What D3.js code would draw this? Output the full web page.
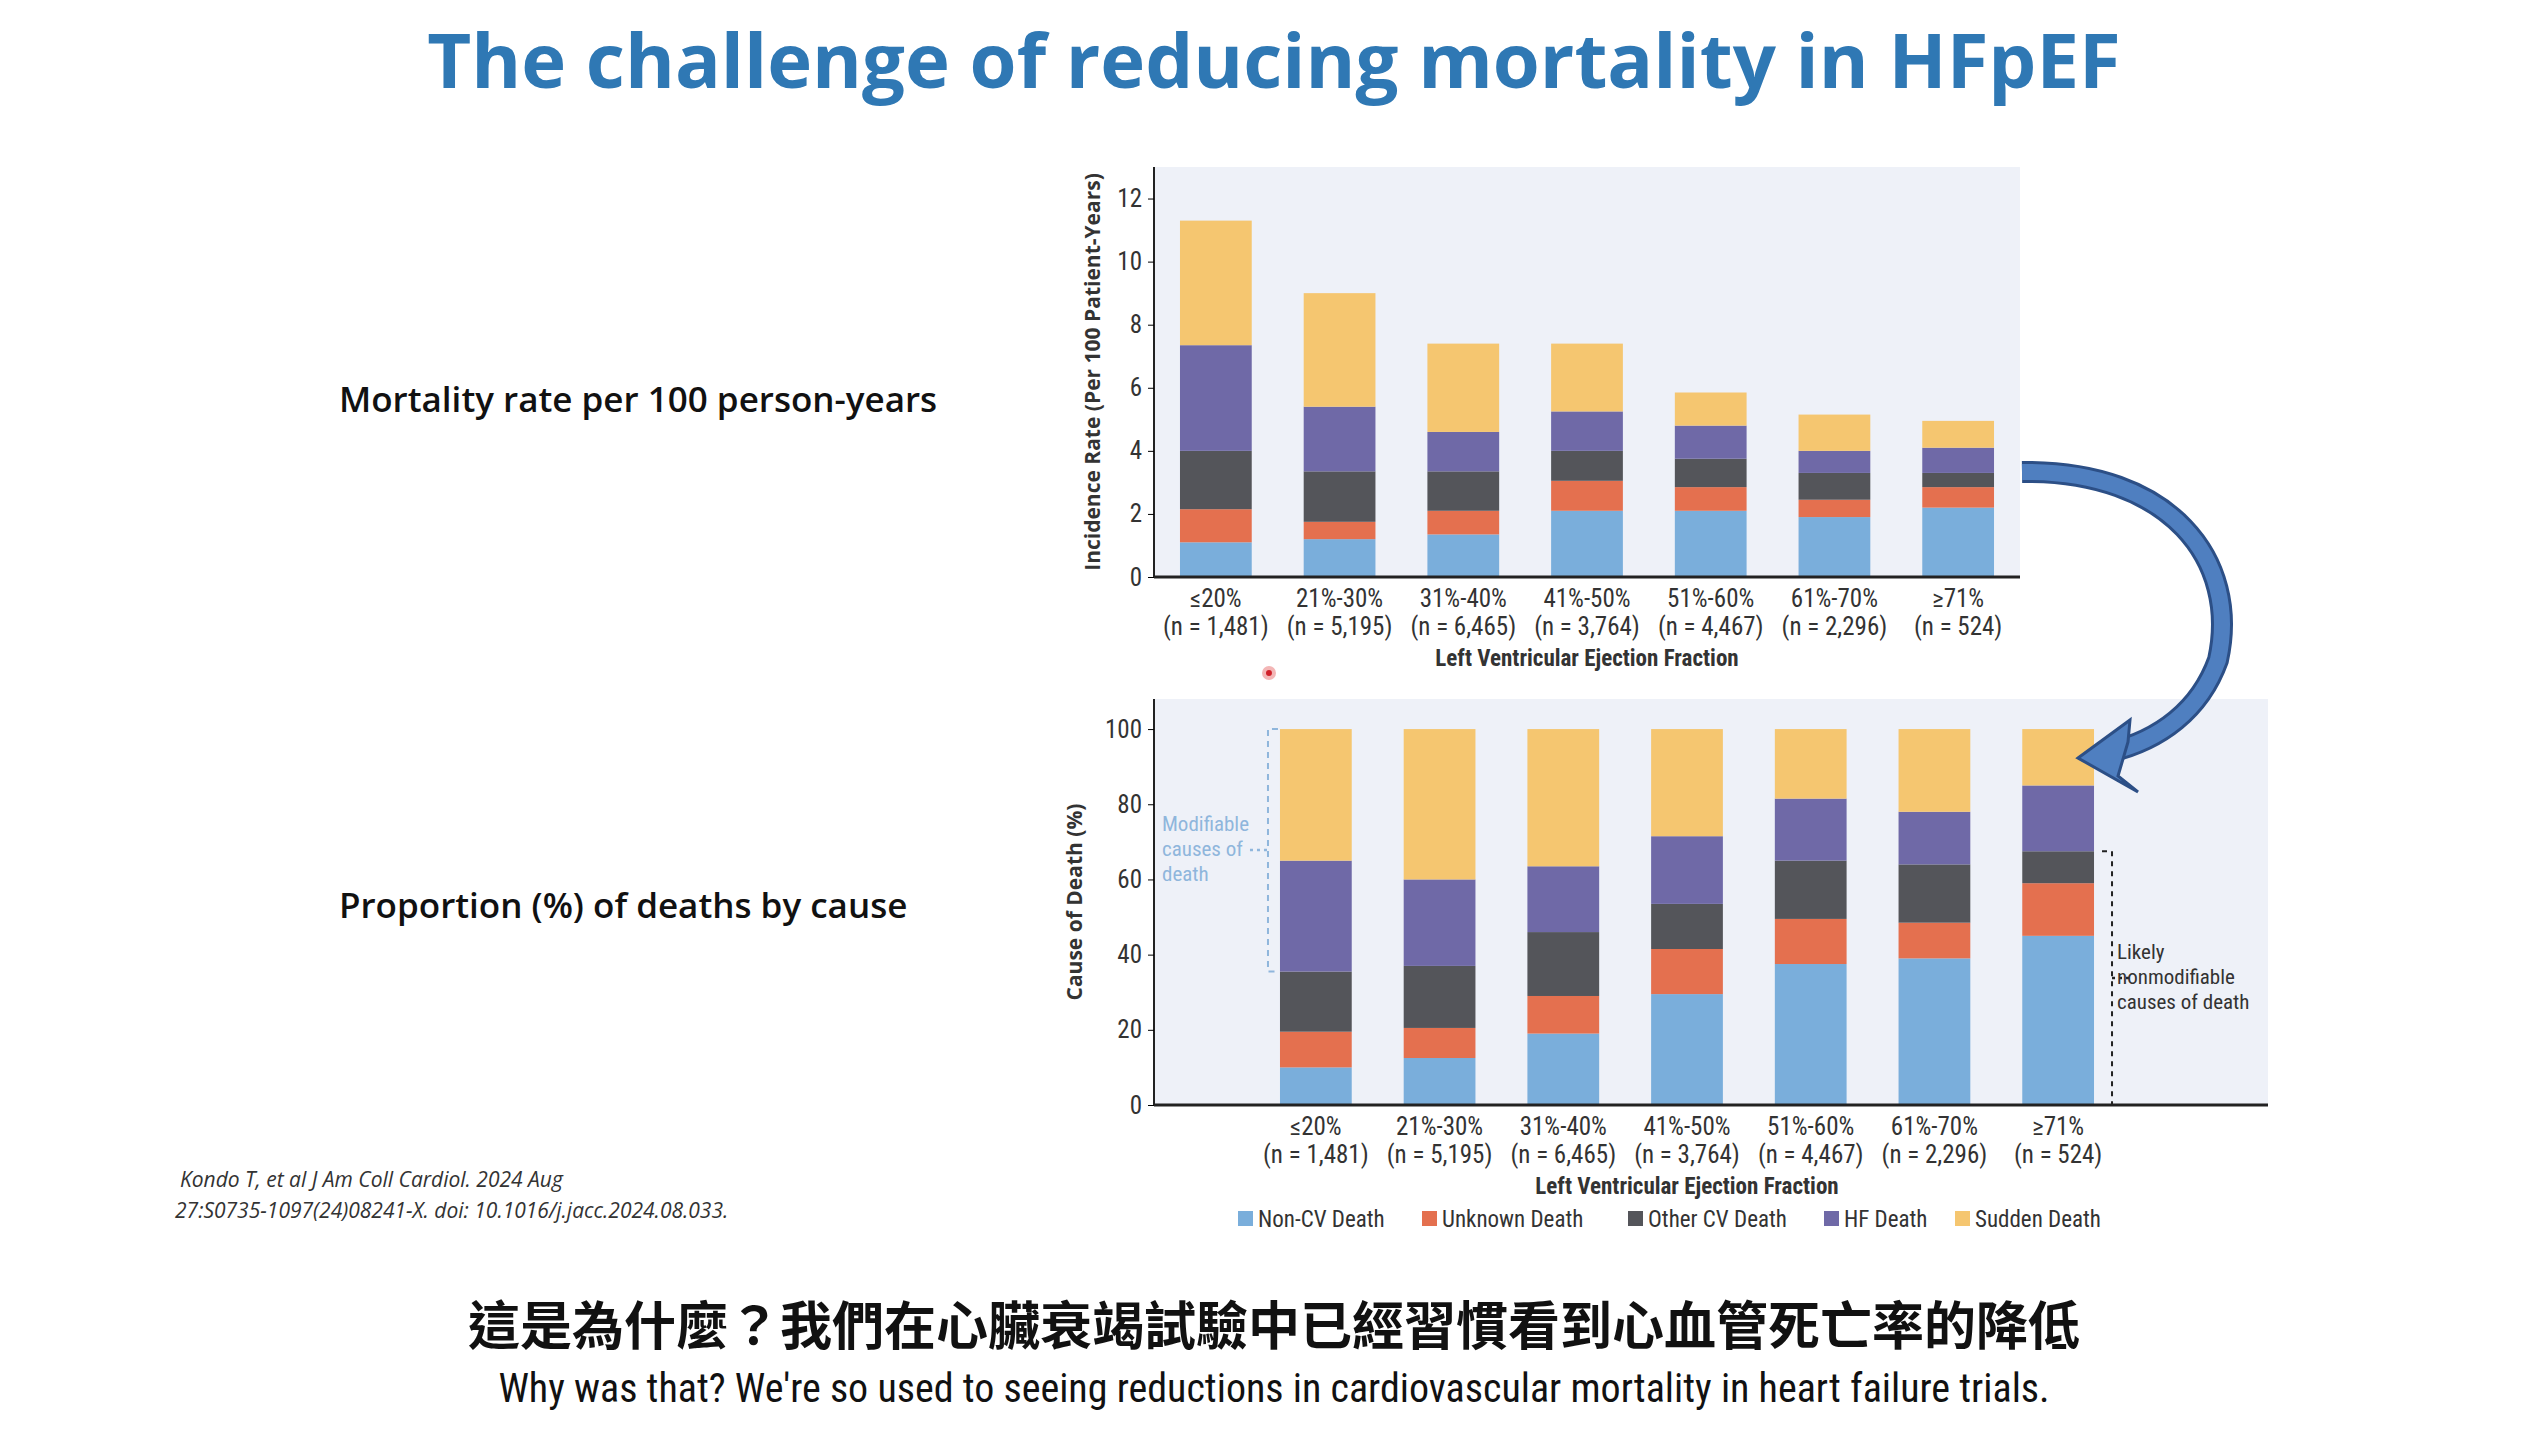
<!DOCTYPE html>
<html>
<head>
<meta charset="utf-8">
<script src="https://cdn.jsdelivr.net/npm/d3@7"></script>
<style>
  body { margin: 0; background: #fff; }
  svg { display: block; }
</style>
</head>
<body>
<svg id="chart" width="2548" height="1432"></svg>
<script>
// LVEF groups
const groups = ["≤20%", "21%-30%", "31%-40%", "41%-50%", "51%-60%", "61%-70%", "≥71%"];
const groupN = ["(n = 1,481)", "(n = 5,195)", "(n = 6,465)", "(n = 3,764)", "(n = 4,467)", "(n = 2,296)", "(n = 524)"];
const causes = ["Non-CV Death", "Unknown Death", "Other CV Death", "HF Death", "Sudden Death"];
const causeColors = ["#7aaedb", "#e4704f", "#54555a", "#6f69a7", "#f5c670"];

// incidence per 100 patient-years, one array per cause
const rateNonCV   = [1.10, 1.20, 1.35, 2.10, 2.10, 1.90, 2.20];
const rateUnknown = [1.05, 0.55, 0.75, 0.95, 0.75, 0.55, 0.65];
const rateOtherCV = [1.85, 1.60, 1.25, 0.95, 0.90, 0.85, 0.45];
const rateHF      = [3.35, 2.05, 1.25, 1.25, 1.05, 0.70, 0.80];
const rateSudden  = [3.95, 3.60, 2.80, 2.15, 1.05, 1.15, 0.85];
const rateTicks = [0, 2, 4, 6, 8, 10, 12];

// proportion of deaths (%)
const pctNonCV   = [10.0, 12.5, 19.0, 29.5, 37.5, 39.0, 45.0];
const pctUnknown = [9.5, 8.0, 10.0, 12.0, 12.0, 9.5, 14.0];
const pctOtherCV = [16.0, 16.5, 17.0, 12.0, 15.5, 15.5, 8.5];
const pctHF      = [29.5, 23.0, 17.5, 18.0, 16.5, 14.0, 17.5];
const pctSudden  = [35.0, 40.0, 36.5, 28.5, 18.5, 22.0, 15.0];
const pctTicks = [0, 20, 40, 60, 80, 100];

const svg = d3.select("#chart");
const narrow = "'Liberation Sans Narrow', 'Roboto Condensed', Arial, sans-serif";
const sans = "'Open Sans', 'Noto Sans', sans-serif";

svg.append("text").attr("x", 1274).attr("y", 88).attr("text-anchor", "middle")
  .attr("font-family", sans).attr("font-weight", 700).attr("font-size", 76)
  .attr("fill", "#2f78b4").text("The challenge of reducing mortality in HFpEF");

svg.append("text").attr("x", 339).attr("y", 412).attr("font-family", sans)
  .attr("font-weight", 600).attr("font-size", 35).attr("fill", "#111")
  .text("Mortality rate per 100 person-years");
svg.append("text").attr("x", 339).attr("y", 918).attr("font-family", sans)
  .attr("font-weight", 600).attr("font-size", 35).attr("fill", "#111")
  .text("Proportion (%) of deaths by cause");

function rows(arrs) {
  return groups.map((g, i) => {
    const r = { group: g };
    causes.forEach((c, k) => r[c] = arrs[k][i]);
    return r;
  });
}

function drawPanel(opt) {
  const g = svg.append("g");
  g.append("rect").attr("x", opt.x0).attr("y", opt.top)
    .attr("width", opt.bgRight - opt.x0).attr("height", opt.bottom - opt.top)
    .attr("fill", "#eef1f8");

  const x = d3.scaleBand().domain(groups).range([opt.xa, opt.xb]).paddingInner(0.42).paddingOuter(0.21);
  const y = d3.scaleLinear().domain([0, opt.ymax]).range([opt.bottom, opt.top]);

  const series = d3.stack().keys(causes)(rows(opt.data));
  g.selectAll("g.s").data(series).join("g")
    .attr("fill", (d, i) => causeColors[i])
    .selectAll("rect").data(d => d).join("rect")
    .attr("x", d => x(d.data.group)).attr("width", x.bandwidth())
    .attr("y", d => y(d[1])).attr("height", d => y(d[0]) - y(d[1]));

  const ya = g.append("g").attr("transform", `translate(${opt.x0},0)`)
    .call(d3.axisLeft(y).tickValues(opt.ticks).tickSize(6).tickPadding(6));
  ya.select(".domain").attr("d", `M0,${opt.top}V${opt.bottom}`).attr("stroke", "#222").attr("stroke-width", 2);
  ya.selectAll("text").attr("font-family", narrow).attr("font-size", 25).attr("fill", "#333");

  g.append("line").attr("x1", opt.x0).attr("x2", opt.bgRight)
    .attr("y1", opt.bottom).attr("y2", opt.bottom).attr("stroke", "#222").attr("stroke-width", 3);

  groups.forEach((gr, i) => {
    const cx = x(gr) + x.bandwidth() / 2;
    g.append("text").attr("x", cx).attr("y", opt.bottom + 30).attr("text-anchor", "middle")
      .attr("font-family", narrow).attr("font-size", 25).attr("fill", "#333").text(gr);
    g.append("text").attr("x", cx).attr("y", opt.bottom + 58).attr("text-anchor", "middle")
      .attr("font-family", narrow).attr("font-size", 25).attr("fill", "#333").text(groupN[i]);
  });
  g.append("text").attr("x", (x(groups[0]) + x(groups[6]) + x.bandwidth()) / 2).attr("y", opt.bottom + 89)
    .attr("text-anchor", "middle").attr("font-family", narrow).attr("font-weight", 700)
    .attr("font-size", 23).attr("fill", "#333").text("Left Ventricular Ejection Fraction");
  g.append("text").attr("transform", `translate(${opt.titleX},${(opt.top + opt.bottom) / 2}) rotate(-90)`)
    .attr("text-anchor", "middle").attr("font-family", sans).attr("font-weight", 700)
    .attr("font-size", 21).attr("fill", "#333").text(opt.title);
  return { x, y };
}

drawPanel({ x0: 1154, bgRight: 2020, top: 167, bottom: 577, xa: 1154, xb: 2020, ymax: 13,
  ticks: rateTicks, title: "Incidence Rate (Per 100 Patient-Years)", titleX: 1100,
  data: [rateNonCV, rateUnknown, rateOtherCV, rateHF, rateSudden] });

const p2 = drawPanel({ x0: 1154, bgRight: 2268, top: 699, bottom: 1105, xa: 1254, xb: 2120, ymax: 108,
  ticks: pctTicks, title: "Cause of Death (%)", titleX: 1082,
  data: [pctNonCV, pctUnknown, pctOtherCV, pctHF, pctSudden] });

// brackets
const bx1 = p2.x(groups[0]) - 12;
svg.append("path").attr("d", `M${bx1 + 10},${p2.y(100)}H${bx1}V${p2.y(35.5)}H${bx1 + 10}`)
  .attr("fill", "none").attr("stroke", "#8fb6dc").attr("stroke-width", 2).attr("stroke-dasharray", "6,5");
svg.append("line").attr("x1", bx1 - 18).attr("x2", bx1).attr("y1", 850).attr("y2", 850)
  .attr("stroke", "#8fb6dc").attr("stroke-width", 2.5).attr("stroke-dasharray", "3,4");
["Modifiable", "causes of", "death"].forEach((t, i) =>
  svg.append("text").attr("x", 1162).attr("y", 831 + i * 25).attr("font-family", narrow)
    .attr("font-size", 21).attr("fill", "#8fb6dc").text(t));

const bx2 = p2.x(groups[6]) + p2.x.bandwidth() + 18;
svg.append("path").attr("d", `M${bx2 - 10},${p2.y(67.5)}H${bx2}V${p2.y(0)}H${bx2 - 10}`)
  .attr("fill", "none").attr("stroke", "#222").attr("stroke-width", 2).attr("stroke-dasharray", "5,5");
svg.append("line").attr("x1", bx2).attr("x2", bx2 + 18).attr("y1", 978).attr("y2", 978)
  .attr("stroke", "#222").attr("stroke-width", 2.5).attr("stroke-dasharray", "3,4");
["Likely", "nonmodifiable", "causes of death"].forEach((t, i) =>
  svg.append("text").attr("x", 2117).attr("y", 959 + i * 25).attr("font-family", narrow)
    .attr("font-size", 21).attr("fill", "#333").text(t));

// legend
const legX = [1238, 1422, 1628, 1824, 1955];
causes.forEach((c, i) => {
  svg.append("rect").attr("x", legX[i]).attr("y", 1211).attr("width", 15).attr("height", 15).attr("fill", causeColors[i]);
  svg.append("text").attr("x", legX[i] + 20).attr("y", 1227).attr("font-family", narrow)
    .attr("font-size", 23).attr("fill", "#333").text(c);
});

// curved arrow
svg.append("path").attr("d", "M2022,472 C2170,470 2240,560 2218,660 C2200,710 2160,740 2110,752")
  .attr("fill", "none").attr("stroke", "#2c4f86").attr("stroke-width", 22).attr("stroke-linecap", "butt");
svg.append("path").attr("d", "M2022,472 C2170,470 2240,560 2218,660 C2200,710 2160,740 2110,752")
  .attr("fill", "none").attr("stroke", "#4f7fc0").attr("stroke-width", 16);
svg.append("path").attr("d", "M2078,758 L2130,720 L2128,742 L2118,776 L2138,792 Z")
  .attr("fill", "#4f7fc0").attr("stroke", "#2c4f86").attr("stroke-width", 3);

// cursor dot
svg.append("circle").attr("cx", 1269).attr("cy", 673).attr("r", 7).attr("fill", "#f3b6b6");
svg.append("circle").attr("cx", 1269).attr("cy", 673).attr("r", 3).attr("fill", "#d0202a");

// citation
svg.append("text").attr("x", 180).attr("y", 1187).attr("font-family", sans).attr("font-style", "italic")
  .attr("font-size", 21).attr("fill", "#333").text("Kondo T, et al J Am Coll Cardiol. 2024 Aug");
svg.append("text").attr("x", 175).attr("y", 1218).attr("font-family", sans).attr("font-style", "italic")
  .attr("font-size", 21).attr("fill", "#333").text("27:S0735-1097(24)08241-X. doi: 10.1016/j.jacc.2024.08.033.");

// subtitles
svg.append("text").attr("x", 1274).attr("y", 1345).attr("text-anchor", "middle")
  .attr("font-family", "'Noto Sans CJK TC', sans-serif").attr("font-weight", 700).attr("font-size", 52)
  .attr("fill", "#111").attr("stroke", "#fff").attr("stroke-width", 6).attr("paint-order", "stroke")
  .text("這是為什麼？我們在心臟衰竭試驗中已經習慣看到心血管死亡率的降低");
svg.append("text").attr("x", 1274).attr("y", 1402).attr("text-anchor", "middle")
  .attr("font-family", narrow).attr("font-size", 40)
  .attr("fill", "#111").attr("stroke", "#fff").attr("stroke-width", 5).attr("paint-order", "stroke")
  .text("Why was that? We're so used to seeing reductions in cardiovascular mortality in heart failure trials.");
</script>
</body>
</html>
